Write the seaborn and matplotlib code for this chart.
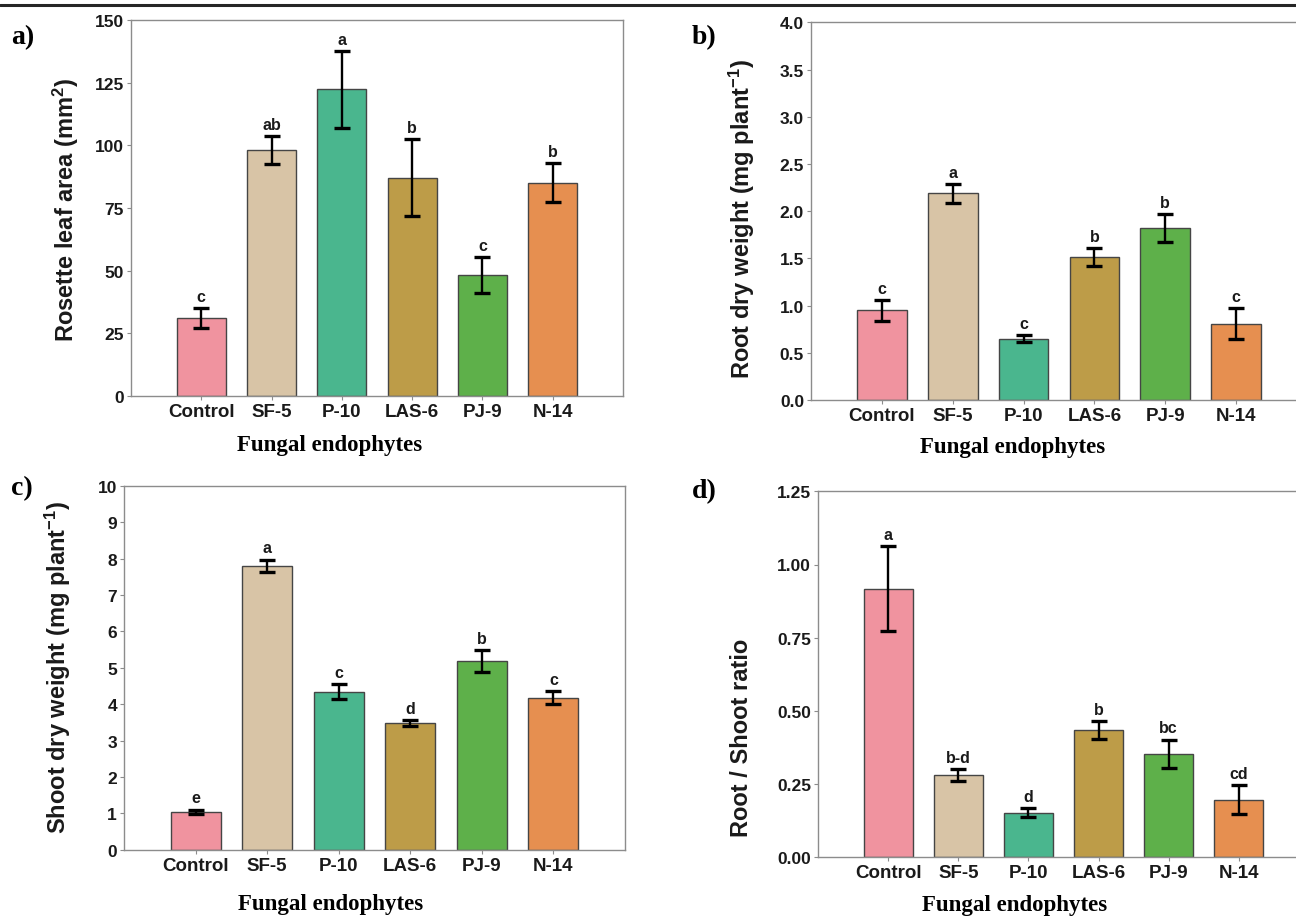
import numpy as np
import pandas as pd
import matplotlib
matplotlib.use("Agg")
import matplotlib.pyplot as plt
import seaborn as sns
from matplotlib.lines import Line2D

# ---- data -------------------------------------------------------------
strains = ["Control", "SF-5", "P-10", "LAS-6", "PJ-9", "N-14"]
bar_colors = ["#F0939F", "#D8C4A6", "#4AB68E", "#BD9C48", "#5EB04A", "#E68F50"]

leaf_area = [31.0, 98.1, 122.3, 87.1, 48.3, 85.1]
leaf_area_se = [4.0, 5.5, 15.4, 15.4, 7.2, 7.7]
leaf_area_letters = ["c", "ab", "a", "b", "c", "b"]

root_dw = [0.95, 2.19, 0.65, 1.51, 1.82, 0.81]
root_dw_se = [0.11, 0.10, 0.035, 0.095, 0.15, 0.165]
root_dw_letters = ["c", "a", "c", "b", "b", "c"]

shoot_dw = [1.04, 7.80, 4.34, 3.48, 5.18, 4.18]
shoot_dw_se = [0.06, 0.17, 0.20, 0.08, 0.30, 0.17]
shoot_dw_letters = ["e", "a", "c", "d", "b", "c"]

rs_ratio = [0.918, 0.281, 0.153, 0.435, 0.354, 0.197]
rs_ratio_se = [0.145, 0.020, 0.014, 0.031, 0.048, 0.049]
rs_ratio_letters = ["a", "b-d", "d", "b", "bc", "cd"]

# ---- style ------------------------------------------------------------
sns.set_style("white")
plt.rcParams["font.family"] = ["Liberation Sans", "DejaVu Sans"]
plt.rcParams["mathtext.fontset"] = "custom"
plt.rcParams["mathtext.rm"] = "Liberation Sans:bold"
plt.rcParams["mathtext.bf"] = "Liberation Sans:bold"
plt.rcParams["mathtext.default"] = "bf"

SANS = ["Liberation Sans", "DejaVu Sans"]
SERIF = ["Liberation Serif", "DejaVu Serif"]
SPINE = "#8c8c8c"

W, H = 1296, 920
fig = plt.figure(figsize=(W / 100, H / 100), dpi=100)


def px_box(left, top, right, bottom):
    return [left / W, 1 - bottom / H, (right - left) / W, (bottom - top) / H]


def px_pt(x, y):
    return x / W, 1 - y / H


panels = [
    dict(box=(131, 21, 623, 397), vals=leaf_area, se=leaf_area_se,
         letters=leaf_area_letters, ylim=(0, 150), step=25, fmt="{:.0f}",
         ylabel="Rosette leaf area (mm$^{2}$)", ylab_pos=(66, 210),
         tag="a)", tag_pos=(11, 38), xlab_pos=(330, 446)),
    dict(box=(811, 23.3, 1307, 401), vals=root_dw, se=root_dw_se,
         letters=root_dw_letters, ylim=(0, 4), step=0.5, fmt="{:.1f}",
         ylabel="Root dry weight (mg plant$^{-1}$)", ylab_pos=(742, 219),
         tag="b)", tag_pos=(692, 38), xlab_pos=(1013, 448)),
    dict(box=(124, 486.7, 625, 850.7), vals=shoot_dw, se=shoot_dw_se,
         letters=shoot_dw_letters, ylim=(0, 10), step=1, fmt="{:.0f}",
         ylabel="Shoot dry weight (mg plant$^{-1}$)", ylab_pos=(58, 668),
         tag="c)", tag_pos=(11, 489), xlab_pos=(331, 905)),
    dict(box=(818, 492.3, 1309, 858.3), vals=rs_ratio, se=rs_ratio_se,
         letters=rs_ratio_letters, ylim=(0, 1.25), step=0.25, fmt="{:.2f}",
         ylabel="Root / Shoot ratio", ylab_pos=(741, 738),
         tag="d)", tag_pos=(692, 492), xlab_pos=(1015, 906)),
]

for p in panels:
    ax = fig.add_axes(px_box(*p["box"]))
    df = pd.DataFrame({"strain": strains, "value": p["vals"]})
    sns.barplot(data=df, x="strain", y="value", hue="strain",
                palette=bar_colors, order=strains, hue_order=strains,
                width=0.7, errorbar=None, saturation=1,
                edgecolor="#454545", linewidth=1.0, legend=False, ax=ax)
    pos = np.arange(len(strains))
    vals = np.asarray(p["vals"])
    se = np.asarray(p["se"])
    ax.errorbar(pos, vals, yerr=se, fmt="none", ecolor="black",
                elinewidth=1.7, capsize=5.5, capthick=2.4, zorder=5)
    for x, v, e, lab in zip(pos, vals, se, p["letters"]):
        ax.annotate(lab, xy=(x, v + e), xytext=(0, 3),
                    textcoords="offset points", ha="center", va="bottom",
                    fontsize=11.5, fontweight="bold", family=SANS,
                    color="#1a1a1a")

    ax.set_xlim(-1, 6)
    ax.set_ylim(*p["ylim"])
    ticks = np.arange(p["ylim"][0], p["ylim"][1] + p["step"] / 2, p["step"])
    ax.set_yticks(ticks)
    ax.set_yticklabels([p["fmt"].format(t) for t in ticks])
    ax.set_xlabel("")
    ax.set_ylabel("")
    for s in ax.spines.values():
        s.set_color(SPINE)
        s.set_linewidth(1.0)
        s.set_visible(True)
    ax.tick_params(axis="both", which="both", length=3, width=0.8,
                   color=SPINE, labelcolor="#1a1a1a", pad=2,
                   bottom=True, left=True)
    for t in ax.get_yticklabels():
        t.set_fontweight("bold")
        t.set_fontsize(12.5)
    for t in ax.get_xticklabels():
        t.set_fontweight("bold")
        t.set_fontsize(13.5)

    fx, fy = px_pt(*p["ylab_pos"])
    fig.text(fx, fy, p["ylabel"], rotation=90, ha="center", va="center",
             fontsize=17, fontweight="bold", color="#1a1a1a")
    fx, fy = px_pt(*p["tag_pos"])
    fig.text(fx, fy, p["tag"], ha="left", va="center", fontsize=20,
             fontweight="bold", family=SERIF, color="black")
    fx, fy = px_pt(*p["xlab_pos"])
    fig.text(fx, fy, "Fungal endophytes", ha="center", va="center",
             fontsize=16.5, fontweight="bold", family=SERIF, color="black")

# rule along the top edge
fig.add_artist(Line2D([0, 1], [1 - 6 / H, 1 - 6 / H], transform=fig.transFigure,
                      color="#262626", linewidth=2.2))

fig.savefig("out.png", dpi=100)
